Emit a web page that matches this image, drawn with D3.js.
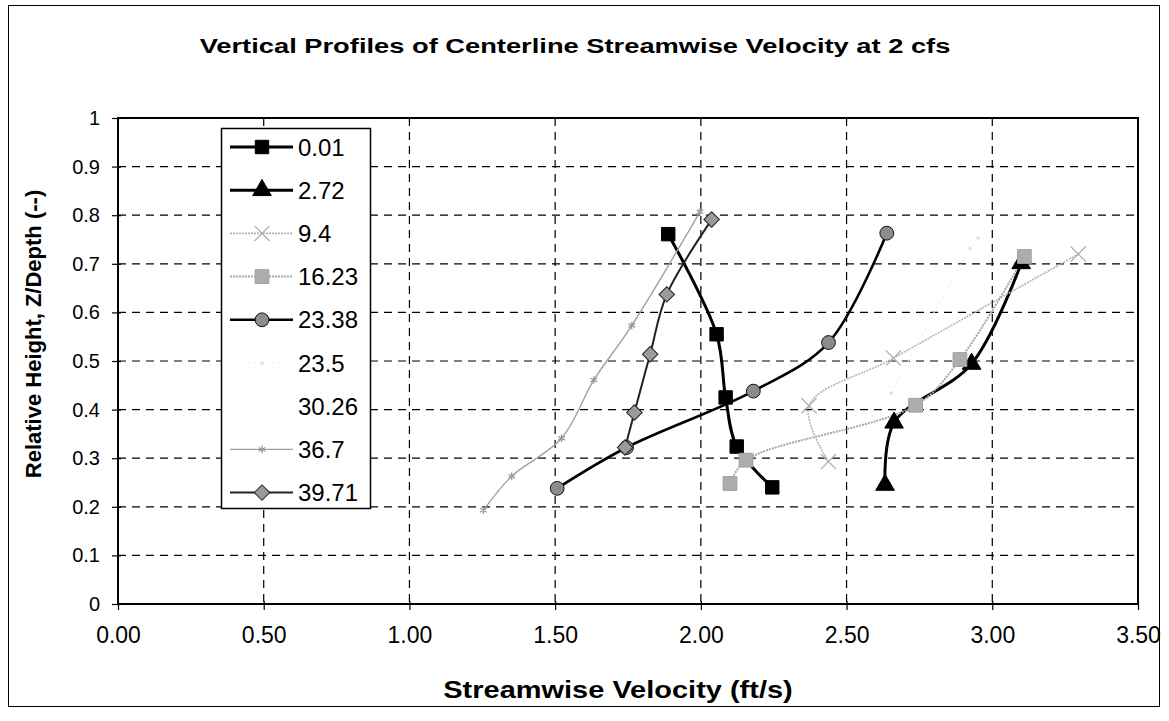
<!DOCTYPE html>
<html>
<head>
<meta charset="utf-8">
<script src="https://cdn.jsdelivr.net/npm/d3@7"></script>
<style>
  html, body { margin: 0; padding: 0; background: #fff; }
  svg { display: block; font-family: Arial, "Liberation Sans", sans-serif; }
</style>
</head>
<body>
<svg id="chart" width="1169" height="721"></svg>
<script>
// Station labels (legend) and measured profiles: [velocity ft/s, relative height]
const stations = ["0.01", "2.72", "9.4", "16.23", "23.38", "23.5", "30.26", "36.7", "39.71"];

const s0_01  = [[1.888, 0.761], [2.054, 0.555], [2.085, 0.425], [2.123, 0.324], [2.245, 0.240]];
const s2_72  = [[2.632, 0.245], [2.663, 0.373], [2.929, 0.494], [3.099, 0.701]];
const s9_4   = [[2.438, 0.293], [2.371, 0.408], [2.661, 0.506], [3.295, 0.720]];
const s16_23 = [[2.100, 0.248], [2.155, 0.296], [2.737, 0.409], [2.889, 0.503], [3.110, 0.715]];
const s23_38 = [[1.507, 0.238], [1.745, 0.322], [2.180, 0.438], [2.438, 0.538], [2.638, 0.763]];
const s23_5  = [[2.653, 0.434], [2.924, 0.732], [2.952, 0.753]];
const s30_26 = [];
const s36_7  = [[1.254, 0.193], [1.351, 0.263], [1.522, 0.341], [1.633, 0.461], [1.763, 0.573], [1.997, 0.807]];
const s39_71 = [[1.740, 0.322], [1.772, 0.394], [1.826, 0.514], [1.883, 0.637], [2.037, 0.791]];

const xTicks = [0, 0.5, 1, 1.5, 2, 2.5, 3, 3.5];
const yTicks = [0, 0.1, 0.2, 0.3, 0.4, 0.5, 0.6, 0.7, 0.8, 0.9, 1];

const chartTitle = "Vertical Profiles of Centerline Streamwise Velocity at 2 cfs";
const xTitle = "Streamwise Velocity (ft/s)";
const yTitle = "Relative Height, Z/Depth (--)";

// Visual style per series
const styles = [
  { data: s0_01,  line: "#000",    width: 3,   dash: null,  sym: d3.symbolSquare,   size: 180, fill: "#000",    stroke: "#000",    rot: 0 },
  { data: s2_72,  line: "#000",    width: 3,   dash: null,  sym: d3.symbolTriangle, size: 150, fill: "#000",    stroke: "#000",    rot: 0 },
  { data: s9_4,   line: "#b4b4b4", width: 1.6, dash: "2,1", sym: d3.symbolTimes,    size: 150, fill: "none",    stroke: "#b0b0b0", rot: 0, strokeSym: true },
  { data: s16_23, line: "#a8a8a8", width: 2,   dash: "2,1", sym: d3.symbolSquare,   size: 190, fill: "#adadad", stroke: "#a0a0a0", rot: 0 },
  { data: s23_38, line: "#000",    width: 2.6, dash: null,  sym: d3.symbolCircle,   size: 150, fill: "#8c8c8c", stroke: "#111",    rot: 0 },
  { data: s23_5,  line: "#eeeeee", width: 1.2, dash: "2,4", sym: d3.symbolCircle,   size: 6,   fill: "#e2e2e2", stroke: "#e2e2e2", rot: 0 },
  { data: s30_26, line: "#fff",    width: 1,   dash: null,  sym: d3.symbolCircle,   size: 8,   fill: "#fff",    stroke: "#fff",    rot: 0 },
  { data: s36_7,  line: "#a0a0a0", width: 1.4, dash: null,  sym: d3.symbolAsterisk, size: 40,  fill: "none",    stroke: "#9a9a9a", rot: 0, strokeSym: true },
  { data: s39_71, line: "#222",    width: 2,   dash: null,  sym: d3.symbolSquare,   size: 120, fill: "#9a9a9a", stroke: "#222",    rot: 45 }
];

const svg = d3.select("#chart");

// Outer chart frame
svg.append("rect")
  .attr("x", 8.5).attr("y", 5.5).attr("width", 1151).attr("height", 701)
  .attr("fill", "#fff").attr("stroke", "#000").attr("stroke-width", 1);

const x = d3.scaleLinear().domain([0, 3.5]).range([118, 1138]);
const y = d3.scaleLinear().domain([0, 1]).range([604, 118]);

// Dashed grid
const grid = svg.append("g").attr("stroke", "#000").attr("stroke-width", 1.2)
  .attr("stroke-dasharray", "8,6");
grid.selectAll("line.h").data(yTicks.filter(d => d > 0 && d < 1)).join("line")
  .attr("class", "h")
  .attr("x1", x(0)).attr("x2", x(3.5))
  .attr("y1", d => y(d)).attr("y2", d => y(d));
grid.selectAll("line.v").data(xTicks.filter(d => d > 0 && d < 3.5)).join("line")
  .attr("class", "v")
  .attr("y1", y(1)).attr("y2", y(0))
  .attr("x1", d => x(d)).attr("x2", d => x(d));

// Plot area border
svg.append("rect")
  .attr("x", x(0)).attr("y", y(1))
  .attr("width", x(3.5) - x(0)).attr("height", y(0) - y(1))
  .attr("fill", "none").attr("stroke", "#000").attr("stroke-width", 2);

// Axes
const yAxis = d3.axisLeft(y).tickValues(yTicks).tickSize(6).tickSizeOuter(0).tickPadding(12)
  .tickFormat(d => (d === 0 || d === 1) ? String(d) : d3.format(".1f")(d));
const gy = svg.append("g").attr("transform", `translate(${x(0)},0)`).call(yAxis);
gy.select(".domain").remove();
gy.selectAll("line").attr("stroke", "#000").attr("stroke-width", 1.2).attr("x2", -6).attr("x1", 3);
gy.selectAll("text").attr("font-size", 20).attr("fill", "#000")
  .attr("font-family", "Arial, 'Liberation Sans', sans-serif");

const xAxis = d3.axisBottom(x).tickValues(xTicks).tickSize(6).tickSizeOuter(0).tickPadding(17)
  .tickFormat(d3.format(".2f"));
const gx = svg.append("g").attr("transform", `translate(0,${y(0)})`).call(xAxis);
gx.select(".domain").remove();
gx.selectAll("line").attr("stroke", "#000").attr("stroke-width", 1.2).attr("y1", -3);
gx.selectAll("text").attr("font-size", 23).attr("fill", "#000")
  .attr("font-family", "Arial, 'Liberation Sans', sans-serif");

// Series lines and markers
const line = d3.line().x(d => x(d[0])).y(d => y(d[1])).curve(d3.curveCatmullRom.alpha(0.5));

styles.forEach(s => {
  if (!s.data.length) return;
  svg.append("path").datum(s.data)
    .attr("d", line)
    .attr("fill", "none")
    .attr("stroke", s.line)
    .attr("stroke-width", s.width)
    .attr("stroke-dasharray", s.dash)
    .attr("stroke-linejoin", "round");
});

styles.forEach(s => {
  const sym = d3.symbol().type(s.sym).size(s.size);
  svg.append("g").selectAll("path").data(s.data).join("path")
    .attr("d", sym)
    .attr("transform", d => `translate(${x(d[0])},${y(d[1])}) rotate(${s.rot})`)
    .attr("fill", s.fill)
    .attr("stroke", s.stroke)
    .attr("stroke-width", s.strokeSym ? 1.3 : 1);
});

// Legend
const lg = svg.append("g");
lg.append("rect").attr("x", 221.5).attr("y", 128.5).attr("width", 149).attr("height", 380)
  .attr("fill", "#fff").attr("stroke", "#000").attr("stroke-width", 1.5);
const rowY = i => 147 + i * 43.2;
stations.forEach((name, i) => {
  const s = styles[i];
  const yy = rowY(i);
  lg.append("line").attr("x1", 230).attr("x2", 293).attr("y1", yy).attr("y2", yy)
    .attr("stroke", s.line).attr("stroke-width", s.width).attr("stroke-dasharray", s.dash);
  lg.append("path").attr("d", d3.symbol().type(s.sym).size(s.size)())
    .attr("transform", `translate(262,${yy}) rotate(${s.rot})`)
    .attr("fill", s.fill).attr("stroke", s.stroke).attr("stroke-width", s.strokeSym ? 1.3 : 1);
  lg.append("text").attr("x", 298).attr("y", yy).attr("dy", "0.36em")
    .attr("font-size", 24).attr("fill", "#000").text(name);
});

// Titles (the title lettering is set wide, so the glyphs are stretched horizontally)
svg.append("g").attr("transform", "translate(575,53) scale(1.3,1)")
  .append("text").attr("text-anchor", "middle")
  .attr("font-size", 21).attr("font-weight", "bold")
  .text(chartTitle);

svg.append("g").attr("transform", "translate(618,698) scale(1.26,1)")
  .append("text").attr("text-anchor", "middle")
  .attr("font-size", 23).attr("font-weight", "bold")
  .text(xTitle);

svg.append("text")
  .attr("transform", "translate(41,334) rotate(-90)")
  .attr("text-anchor", "middle")
  .attr("font-size", 22).attr("font-weight", "bold")
  .text(yTitle);
</script>
</body>
</html>
